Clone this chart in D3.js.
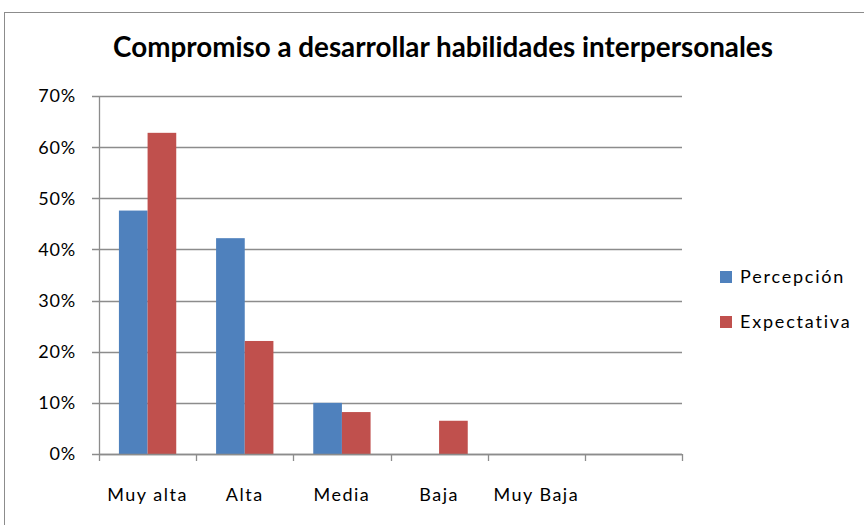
<!DOCTYPE html>
<html>
<head>
<meta charset="utf-8">
<script src="https://cdn.jsdelivr.net/npm/d3@7"></script>
<style>
  body { margin: 0; background: #fff; }
  text { font-family: Lato, "Open Sans", sans-serif; fill: #000; }
</style>
</head>
<body>
<svg id="chart" width="864" height="525"></svg>
<script>
// data
var categories = ["Muy alta", "Alta", "Media", "Baja", "Muy Baja", ""];
var seriesNames = ["Percepción", "Expectativa"];
var percepcion = [47.6, 42.2, 10.0, 0, 0, 0];
var expectativa = [62.8, 22.1, 8.2, 6.5, 0, 0];
var yTicks = [0, 10, 20, 30, 40, 50, 60, 70];

var colors = ["#4F81BD", "#C0504D"];
var values = [percepcion, expectativa];

var svg = d3.select("svg#chart");

// outer chart frame
svg.append("rect")
  .attr("x", 4.5).attr("y", 12.5)
  .attr("width", 870).attr("height", 520)
  .attr("fill", "none")
  .attr("stroke", "#8c8c8c")
  .attr("stroke-width", 1);

var plot = { left: 99, right: 682, top: 96, bottom: 454 };

var x = d3.scaleBand()
  .domain(d3.range(categories.length))
  .range([plot.left, plot.right])
  .paddingInner(0.41).paddingOuter(0.205);

var x1 = d3.scaleBand()
  .domain(d3.range(seriesNames.length))
  .range([0, x.bandwidth()]);

var y = d3.scaleLinear().domain([0, 70]).range([plot.bottom, plot.top]);

var step = (plot.right - plot.left) / categories.length;

// gridlines
svg.append("g").selectAll("line")
  .data(yTicks)
  .enter().append("line")
  .attr("x1", plot.left - 7).attr("x2", plot.right)
  .attr("y1", d => Math.round(y(d)) + 0.5)
  .attr("y2", d => Math.round(y(d)) + 0.5)
  .attr("stroke", "#8c8c8c")
  .attr("stroke-width", 1.3);

// y labels
svg.append("g").selectAll("text")
  .data(yTicks)
  .enter().append("text")
  .attr("x", 76)
  .attr("y", d => y(d))
  .attr("dy", "0.36em")
  .attr("text-anchor", "end")
  .style("font-size", "18px")
  .style("letter-spacing", "0.8px")
  .text(d => d + "%");

// bars
var groups = svg.append("g").selectAll("g")
  .data(categories)
  .enter().append("g")
  .attr("transform", (d, i) => "translate(" + x(i) + ",0)");

groups.selectAll("rect")
  .data((d, i) => values.map((s, k) => ({ k: k, v: s[i] })))
  .enter().append("rect")
  .attr("x", d => x1(d.k))
  .attr("y", d => y(d.v))
  .attr("width", x1.bandwidth())
  .attr("height", d => plot.bottom - y(d.v))
  .attr("fill", d => colors[d.k]);

// axes lines
svg.append("line")
  .attr("x1", plot.left + 0.5).attr("x2", plot.left + 0.5)
  .attr("y1", plot.top).attr("y2", plot.bottom)
  .attr("stroke", "#8c8c8c").attr("stroke-width", 1.3);

svg.append("line")
  .attr("x1", plot.left).attr("x2", plot.right)
  .attr("y1", plot.bottom + 0.5).attr("y2", plot.bottom + 0.5)
  .attr("stroke", "#8c8c8c").attr("stroke-width", 1.3);

// x tick marks at band edges
svg.append("g").selectAll("line")
  .data(d3.range(categories.length + 1))
  .enter().append("line")
  .attr("x1", i => Math.round(plot.left + i * step) + 0.5)
  .attr("x2", i => Math.round(plot.left + i * step) + 0.5)
  .attr("y1", plot.bottom)
  .attr("y2", plot.bottom + 7)
  .attr("stroke", "#8c8c8c").attr("stroke-width", 1.3);

// x labels
svg.append("g").selectAll("text")
  .data(categories)
  .enter().append("text")
  .attr("x", (d, i) => x(i) + x.bandwidth() / 2)
  .attr("y", 501)
  .attr("text-anchor", "middle")
  .style("font-size", "18px")
  .style("letter-spacing", "1.5px")
  .text(d => d);

// title
svg.append("text")
  .attr("x", 443)
  .attr("y", 57)
  .attr("text-anchor", "middle")
  .style("font-size", "27.8px")
  .style("font-weight", "bold")
  .text("Compromiso a desarrollar habilidades interpersonales");

// legend
var legend = svg.append("g").selectAll("g")
  .data(seriesNames)
  .enter().append("g")
  .attr("transform", (d, i) => "translate(720," + (277 + i * 45) + ")");

legend.append("rect")
  .attr("x", 0).attr("y", -6)
  .attr("width", 12).attr("height", 12)
  .attr("fill", (d, i) => colors[i]);

legend.append("text")
  .attr("x", 20)
  .attr("y", 0)
  .attr("dy", "0.36em")
  .style("font-size", "18px")
  .style("letter-spacing", "1.8px")
  .text(d => d);
</script>
</body>
</html>
